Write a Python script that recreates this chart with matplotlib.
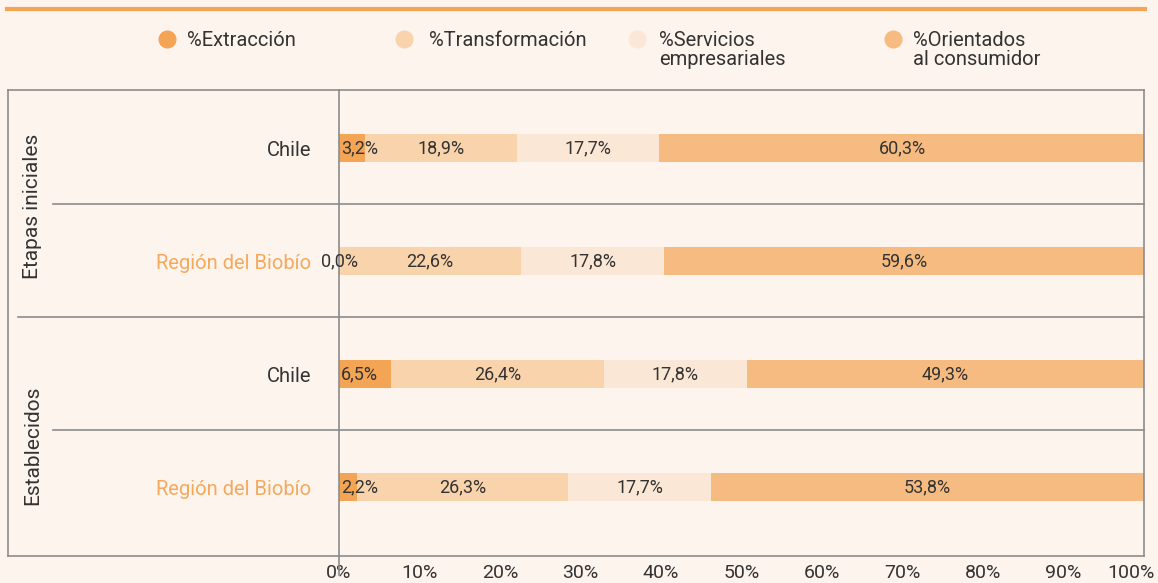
import matplotlib.pyplot as plt
from matplotlib.lines import Line2D
from matplotlib.transforms import ScaledTranslation

plt.rcParams['font.family'] = ['Roboto', 'DejaVu Sans']

# data
rows = ['Chile', 'Región del Biobío', 'Chile', 'Región del Biobío']
groups = ['Etapas iniciales', 'Establecidos']
series = ['%Extracción', '%Transformación', '%Servicios\nempresariales', '%Orientados\nal consumidor']
extraccion = [3.2, 0.0, 6.5, 2.2]
transformacion = [18.9, 22.6, 26.4, 26.3]
servicios = [17.7, 17.8, 17.8, 17.7]
orientados = [60.3, 59.6, 49.3, 53.8]
ticks = [0, 10, 20, 30, 40, 50, 60, 70, 80, 90, 100]

colors = ['#f4a455', '#f9d3ab', '#fbe7d5', '#f6bb80']
bg = '#fdf4ee'
txt = '#333333'
grid = '#8c8c8c'

W, H = 1158, 583
fig = plt.figure(figsize=(W / 100, H / 100), dpi=100, facecolor=bg)

# axes in pixel coords
x0, x1, y0, y1 = 339, 1144, 90, 556
ax = fig.add_axes([x0 / W, 1 - y1 / H, (x1 - x0) / W, (y1 - y0) / H])
ax.set_facecolor(bg)

ypos = range(len(rows))
left = [0] * len(rows)
for vals, c in zip([extraccion, transformacion, servicios, orientados], colors):
    ax.barh(ypos, vals, left=left, height=0.24, color=c, linewidth=0)
    for i, v in enumerate(vals):
        lab = ('%.1f%%' % v).replace('.', ',')
        if v == 0:
            ax.text(left[i], i, lab, ha='center', va='center', fontsize=13, color=txt)
        elif v < 8:
            ax.text(left[i] + 0.25, i, lab, ha='left', va='center', fontsize=13, color=txt)
        else:
            ax.text(left[i] + v / 2, i, lab, ha='center', va='center', fontsize=13, color=txt)
    left = [l + v for l, v in zip(left, vals)]

ax.set_xlim(0, 100)
ax.set_ylim(3.611, -0.513)
ax.set_yticks([])
ax.set_xticks(ticks)
ax.set_xticklabels(['%d%%' % t for t in ticks], fontsize=14, color=txt)
ax.tick_params(axis='x', length=0, pad=6)
last = ax.get_xticklabels()[-1]
last.set_transform(last.get_transform() + ScaledTranslation(-0.13, 0, fig.dpi_scale_trans))
for s in ['top', 'right', 'bottom']:
    ax.spines[s].set_color(grid)
    ax.spines[s].set_linewidth(1.2)
ax.spines['left'].set_visible(False)

# vertical zero line, slightly extended below the frame
ax.plot([0, 0], [-0.513, 3.611 + 0.17], color=grid, lw=1.2, clip_on=False)

# frame on the left part and separators
fl = (8 - x0) / (x1 - x0)
ax.plot([fl, fl], [-0.513, 3.611], color=grid, lw=1.2, clip_on=False,
        transform=ax.get_yaxis_transform())
for yy in [-0.513, 3.611]:
    ax.plot([fl, 0], [yy, yy], color=grid, lw=1.2, clip_on=False,
            transform=ax.get_yaxis_transform())
for yy, start in [(0.5, 53), (1.5, 18), (2.5, 53)]:
    xs = (start - x0) / (x1 - x0)
    ax.plot([xs, 1], [yy, yy], color=grid, lw=1.2, clip_on=False,
            transform=ax.get_yaxis_transform())

# row labels
for i, r in enumerate(rows):
    col = txt if r == 'Chile' else '#f5a95c'
    ax.text(-28 / (x1 - x0), i + 0.02, r, transform=ax.get_yaxis_transform(),
            ha='right', va='center', fontsize=14.5, color=col)

# group labels
for g, yc in zip(groups, [206, 445]):
    fig.text(33 / W, 1 - yc / H, g, rotation=90, ha='center', va='center',
             fontsize=15, color=txt)

# top orange rule
fig.add_artist(Line2D([7 / W, 1145 / W], [1 - 9 / H, 1 - 9 / H], color='#f4a455', lw=3))

# legend
for name, c, mx, tx in zip(series, colors, [167, 404, 637, 893], [187, 429, 659, 913]):
    fig.add_artist(Line2D([mx / W], [1 - 39 / H], marker='o', markersize=12,
                          color=c, linestyle='none'))
    fig.text(tx / W, 1 - 31 / H, name, ha='left', va='top', fontsize=14.5,
             color=txt, linespacing=1.0)

fig.savefig('out.png', dpi=100, facecolor=bg)
